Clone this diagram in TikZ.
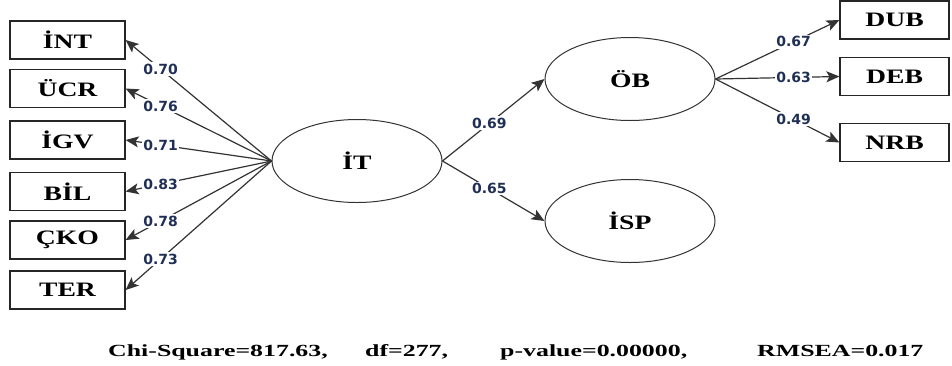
\documentclass[tikz,border=0pt]{standalone}
\usepackage{fontspec}
\usetikzlibrary{arrows.meta,shapes.geometric}
\newfontfamily\boxf{Liberation Serif}[FakeStretch=1.35]
\newfontfamily\lblf{DejaVu Sans}
\newfontfamily\statf{Liberation Serif}[FakeStretch=1.52]
\definecolor{lblcol}{HTML}{1F2F55}
\definecolor{linecol}{HTML}{333333}
\begin{document}
\begin{tikzpicture}[x=1pt,y=-1pt,
  obs/.style={draw=black!85, line width=1.2pt, minimum width=115pt, minimum height=38pt, inner sep=0pt,
    font=\boxf\bfseries\fontsize{20.5}{21}\selectfont},
  obsr/.style={obs, minimum width=109pt},
  lat/.style={ellipse, draw=linecol, line width=1pt, minimum width=170pt, minimum height=83pt, inner sep=0pt,
    font=\boxf\bfseries\fontsize{20.5}{21}\selectfont},
  arr/.style={draw=linecol, line width=1.2pt, -{Stealth[length=13pt,width=11pt,inset=3pt]}},
  lbl/.style={fill=white, inner sep=1.5pt, text=lblcol, font=\lblf\bfseries\fontsize{14}{15}\selectfont},
  stat/.style={anchor=base west, inner sep=0pt, font=\statf\bfseries\fontsize{17}{18}\selectfont}]
\useasboundingbox (0,0) rectangle (952,365);
\fill[white] (0,0) rectangle (952,365);
% observed left
\node[obs] (INT) at (67.5,40) {İNT};
\node[obs] (UCR) at (67.5,88.5) {ÜCR};
\node[obs] (IGV) at (67.5,140) {İGV};
\node[obs] (BIL) at (67.5,191.5) {BİL};
\node[obs] (CKO) at (67.5,240) {ÇKO};
\node[obs] (TER) at (67.5,290) {TER};
% latent
\node[lat] (IT) at (357,161) {İT};
\node[lat] (OB) at (630,79) {ÖB};
\node[lat] (ISP) at (630,221) {İSP};
% observed right
\node[obsr] (DUB) at (894.5,20) {DUB};
\node[obsr] (DEB) at (894.5,76.5) {DEB};
\node[obsr] (NRB) at (894.5,142.5) {NRB};
% loadings left
\draw[arr] (IT.west) -- node[lbl,pos=0.76] {0.70} (INT.east);
\draw[arr] (IT.west) -- node[lbl,pos=0.76] {0.76} (UCR.east);
\draw[arr] (IT.west) -- node[lbl,pos=0.76] {0.71} (IGV.east);
\draw[arr] (IT.west) -- node[lbl,pos=0.76] {0.83} (BIL.east);
\draw[arr] (IT.west) -- node[lbl,pos=0.76] {0.78} (CKO.east);
\draw[arr] (IT.west) -- node[lbl,pos=0.76] {0.73} (TER.east);
% structural
\draw[arr] (IT.east) -- node[lbl,pos=0.46] {0.69} (OB.west);
\draw[arr] (IT.east) -- node[lbl,pos=0.46] {0.65} (ISP.west);
% loadings right
\draw[arr] (OB.east) -- node[lbl,pos=0.63] {0.67} (DUB.west);
\draw[arr] (OB.east) -- node[lbl,pos=0.63] {0.63} (DEB.west);
\draw[arr] (OB.east) -- node[lbl,pos=0.63] {0.49} (NRB.west);
% fit statistics
\node[stat] (chi) at (108,356) {Chi-Square=817.63,};
\node[stat] (df) at (365,356) {df=277,};
\node[stat] (pv) at (500,356) {p-value=0.00000,};
\node[stat] (rm) at (757,356) {RMSEA=0.017};
\end{tikzpicture}
\end{document}
